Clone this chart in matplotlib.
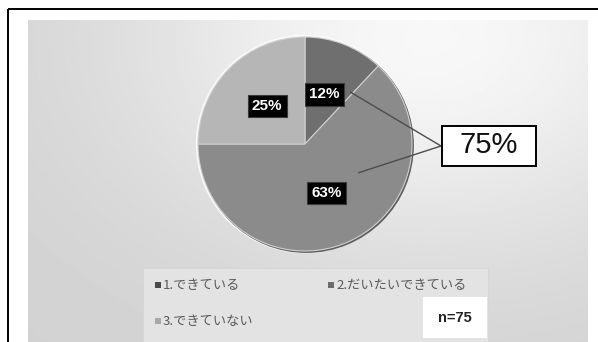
import numpy as np
import matplotlib
matplotlib.use("Agg")
import matplotlib.pyplot as plt
from matplotlib.patches import Rectangle, Circle

# ---- data ----
categories = ["1.できている", "2.だいたいできている", "3.できていない"]
values = [12, 63, 25]
combined_label = "75%"          # 1 + 2
sample_label = "n=75"

slice_colors = ["#6f6f6f", "#8b8b8b", "#b6b6b6"]
marker_colors = ["#4a4a4a", "#6c6c6c", "#a8a8a8"]

W, H = 598, 342
fig = plt.figure(figsize=(W / 100, H / 100), dpi=100)
fig.patch.set_facecolor("white")
ax = fig.add_axes([0, 0, 1, 1])


def Y(py):
    """Pixel row (from top) to axes y (from bottom)."""
    return H - py


jp = ["Noto Sans CJK JP", "DejaVu Sans"]
latin = ["Liberation Sans", "DejaVu Sans"]

# ---- gradient panel ----
px0, px1, py0 = 28, 588, 20
gx = np.linspace(0, 1, 300)
gy = np.linspace(0, 1, 200)
GX, GY = np.meshgrid(gx, gy)
shade = 0.82 + 0.15 * np.exp(-((GX - 0.72) ** 2 / 0.30 + (GY - 0.05) ** 2 / 0.45))
ax.imshow(shade, cmap="gray", vmin=0, vmax=1, extent=(px0, px1, Y(H), Y(py0)),
          aspect="auto", zorder=0, interpolation="bilinear")

# ---- pie ----
cx, cy, R = 305, Y(144), 107
ax.add_patch(Circle((cx, cy), R + 2.2, facecolor="#fafafa", edgecolor="none", zorder=1))
ax.add_patch(Circle((cx + 1.2, cy - 1.2), R + 0.7, facecolor="#5e5e5e", edgecolor="none", zorder=1.5))
wedges, _, autotexts = ax.pie(
    values, colors=slice_colors, startangle=90, counterclock=False,
    center=(cx, cy), radius=R, autopct="%d%%", pctdistance=0.5,
    wedgeprops=dict(edgecolor="#d0d0d0", linewidth=0.8),
    textprops=dict(color="white", fontweight="bold", fontsize=11, family=latin),
)
for w in wedges:
    w.set_zorder(2)
for t in autotexts:
    t.set_zorder(4)
    t.set_bbox(dict(boxstyle="square,pad=0.28", facecolor="black", edgecolor="#3a3a3a", linewidth=0.8))

# ---- leader lines to the combined box ----
box_l, box_r, box_t, box_b = 442, 536, 126, 166
meet = (box_l - 1, Y(146))
for ang, r in [(48.5, 69), (-28, 61)]:
    a = np.deg2rad(ang)
    sx, sy = cx + r * np.cos(a), cy + r * np.sin(a)
    ax.plot([sx, meet[0]], [sy, meet[1]], color="#4d4d4d", lw=1.0, zorder=3)

ax.add_patch(Rectangle((box_l, Y(box_b)), box_r - box_l, box_b - box_t,
                       facecolor="white", edgecolor="black", linewidth=1.4, zorder=5))
ax.text((box_l + box_r) / 2, Y((box_t + box_b) / 2) + 1, combined_label, ha="center", va="center",
        fontsize=21, family=latin, color="#111111", zorder=6)

# ---- legend panel ----
ax.add_patch(Rectangle((143, Y(H)), 488 - 143, H - 268, facecolor="#e3e3e3",
                       edgecolor="#d6d6d6", linewidth=0.6, zorder=1))
legend_pos = [(155, 285), (328, 285), (155, 321)]
for (lx, ly), lab, mc in zip(legend_pos, categories, marker_colors):
    ax.add_patch(Rectangle((lx, Y(ly + 3)), 6, 6, facecolor=mc, edgecolor="none", zorder=3))
    ax.text(lx + 8, Y(ly), lab, ha="left", va="center", fontsize=9.5, family=jp,
            color="#5a5a5a", zorder=3)

ax.add_patch(Rectangle((423, Y(338)), 487 - 423, 338 - 297, facecolor="white",
                       edgecolor="none", zorder=3))
ax.text(455, Y(318), sample_label, ha="center", va="center", fontsize=10.5,
        fontweight="bold", family=latin, color="#222222", zorder=4)

# ---- outer frame (top and left edges visible) ----
ax.plot([8, W], [Y(9), Y(9)], color="black", lw=1.4, zorder=7, solid_capstyle="butt")
ax.plot([8, 8], [Y(9), 0], color="black", lw=1.4, zorder=7, solid_capstyle="butt")

ax.set_xlim(0, W)
ax.set_ylim(0, H)
ax.set_aspect("auto")
ax.axis("off")

fig.savefig("out.png", dpi=100, facecolor="white")
